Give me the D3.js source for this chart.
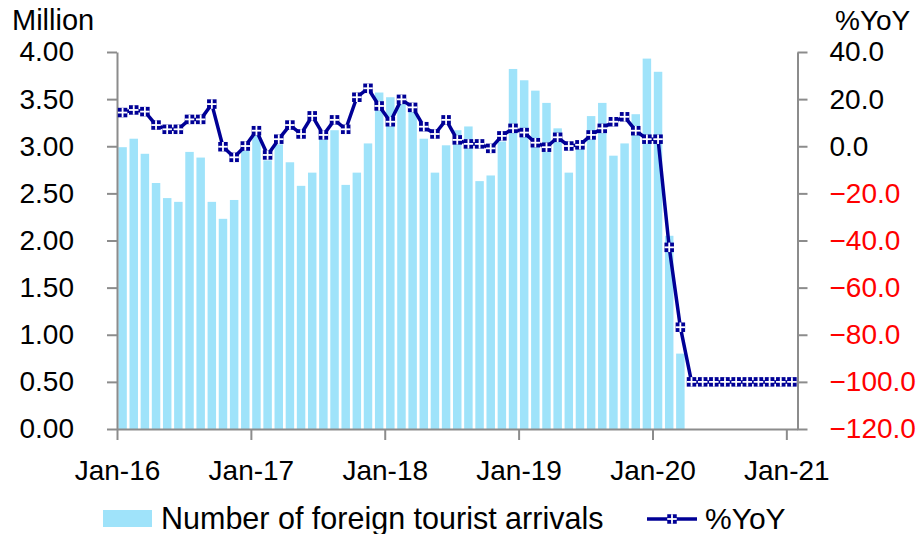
<!DOCTYPE html>
<html>
<head>
<meta charset="utf-8">
<script src="https://cdn.jsdelivr.net/npm/d3@7"></script>
<style>
  html, body { margin: 0; padding: 0; background: #fff; }
  svg { display: block; }
  text { font-family: "Liberation Sans", Arial, sans-serif; }
</style>
</head>
<body>
<svg id="chart" width="918" height="534"></svg>
<script>
// ---- data ----
const months = [
  "2016-01","2016-02","2016-03","2016-04","2016-05","2016-06","2016-07","2016-08","2016-09","2016-10","2016-11","2016-12",
  "2017-01","2017-02","2017-03","2017-04","2017-05","2017-06","2017-07","2017-08","2017-09","2017-10","2017-11","2017-12",
  "2018-01","2018-02","2018-03","2018-04","2018-05","2018-06","2018-07","2018-08","2018-09","2018-10","2018-11","2018-12",
  "2019-01","2019-02","2019-03","2019-04","2019-05","2019-06","2019-07","2019-08","2019-09","2019-10","2019-11","2019-12",
  "2020-01","2020-02","2020-03","2020-04","2020-05","2020-06","2020-07","2020-08","2020-09","2020-10","2020-11","2020-12",
  "2021-01"
];
// Number of foreign tourist arrivals (million), Jan-16 .. Mar-20
const arrivals = [
  2.99, 3.08, 2.92, 2.61, 2.45, 2.41, 2.94, 2.88, 2.41, 2.23, 2.43, 2.97,
  3.12, 2.85, 3.02, 2.83, 2.58, 2.72, 3.08, 3.17, 2.59, 2.72, 3.03, 3.57,
  3.52, 3.47, 3.44, 3.08, 2.72, 3.01, 3.17, 3.21, 2.63, 2.69, 3.05, 3.82,
  3.70, 3.59, 3.46, 3.19, 2.72, 3.00, 3.32, 3.46, 2.90, 3.03, 3.34, 3.93,
  3.79, 2.05, 0.80
];
// %YoY, Jan-16 .. Jan-21
const yoy = [
  14.3, 15.4, 14.7, 9.0, 7.2, 7.2, 11.4, 11.4, 17.9, -0.2, -4.7, 0.1,
  6.6, -3.7, 3.0, 9.0, 5.2, 12.9, 4.8, 11.2, 7.2, 20.8, 24.6, 17.1,
  10.4, 19.9, 16.5, 8.3, 5.2, 11.2, 2.7, 1.0, 1.0, -0.9, 4.4, 7.6,
  5.8, 1.5, -0.4, 3.8, 0.1, 0.6, 4.8, 7.6, 10.4, 12.5, 6.6, 3.0,
  3.0, -42.9, -76.8, -100, -100, -100, -100, -100, -100, -100, -100, -100,
  -100
];
const xTickIndex = [0, 12, 24, 36, 48, 60];
const xTickLabels = ["Jan-16", "Jan-17", "Jan-18", "Jan-19", "Jan-20", "Jan-21"];
const leftTicks = [0, 0.5, 1, 1.5, 2, 2.5, 3, 3.5, 4];
const rightTicks = [-120, -100, -80, -60, -40, -20, 0, 20, 40];
const seriesNames = ["Number of foreign tourist arrivals", "%YoY"];

// ---- layout ----
const L = 117, R = 797.5, T = 52, B = 429;
const barColor = "#9fe3fa";
const lineColor = "#000096";
const axisColor = "#8c8c8c";
const FS = 28;

const svg = d3.select("#chart");

const xBand = d3.scaleBand().domain(months).range([L, R]).paddingInner(0.24).paddingOuter(0.12);
const xIdx = d3.scaleLinear().domain([0, months.length]).range([L, R]);
const yL = d3.scaleLinear().domain([0, 4]).range([B, T]);
const yR = d3.scaleLinear().domain([-120, 40]).range([B, T]);

// bars
svg.append("g").selectAll("rect")
  .data(arrivals)
  .join("rect")
  .attr("x", (d, i) => xBand(months[i]))
  .attr("width", xBand.bandwidth())
  .attr("y", d => yL(d))
  .attr("height", d => yL(0) - yL(d))
  .attr("fill", barColor);

// axes
const styleAxis = g => {
  g.selectAll(".domain").attr("stroke", axisColor).attr("stroke-width", 2);
  g.selectAll(".tick line").attr("stroke", axisColor).attr("stroke-width", 2);
  g.selectAll("text").attr("font-size", FS).attr("fill", "#000")
    .attr("font-family", '"Liberation Sans", Arial, sans-serif');
};

svg.append("g")
  .attr("transform", `translate(${L},0)`)
  .call(d3.axisLeft(yL).tickValues(leftTicks).tickFormat(d3.format(".2f")).tickSize(10).tickSizeOuter(0).tickPadding(33))
  .call(styleAxis);

const gR = svg.append("g")
  .attr("transform", `translate(${R},0)`)
  .call(d3.axisRight(yR).tickValues(rightTicks).tickFormat(d3.format(".1f")).tickSize(10).tickSizeOuter(0).tickPadding(22))
  .call(styleAxis);
gR.selectAll(".tick text").attr("fill", d => d < 0 ? "#ff0000" : "#000");

svg.append("g")
  .attr("transform", `translate(0,${B})`)
  .call(d3.axisBottom(xIdx).tickValues(xTickIndex).tickFormat((d, i) => xTickLabels[i]).tickSize(11).tickSizeOuter(0).tickPadding(20))
  .call(styleAxis);

// line
const cx = i => xBand(months[i]) + xBand.bandwidth() / 2;
const line = d3.line().x((d, i) => cx(i)).y(d => yR(d));
svg.append("path")
  .datum(yoy)
  .attr("d", line)
  .attr("fill", "none")
  .attr("stroke", lineColor)
  .attr("stroke-width", 3.5)
  .attr("stroke-linejoin", "round");

function marker(g, x, y) {
  const s = 9.5;
  g.append("rect").attr("x", x - s / 2).attr("y", y - s / 2).attr("width", s).attr("height", s).attr("fill", lineColor);
  g.append("line").attr("x1", x - s / 2).attr("x2", x + s / 2).attr("y1", y).attr("y2", y).attr("stroke", "#fff").attr("stroke-width", 1.8);
  g.append("line").attr("x1", x).attr("x2", x).attr("y1", y - s / 2).attr("y2", y + s / 2).attr("stroke", "#fff").attr("stroke-width", 1.8);
}
const gm = svg.append("g");
yoy.forEach((d, i) => marker(gm, cx(i), yR(d)));

// axis titles
svg.append("text").attr("x", 12).attr("y", 30).attr("font-size", 29).text("Million");
svg.append("text").attr("x", 835).attr("y", 30).attr("font-size", FS).text("%YoY");

// legend
const lg = svg.append("g");
lg.append("rect").attr("x", 103).attr("y", 510).attr("width", 49).attr("height", 17).attr("fill", barColor);
lg.append("text").attr("x", 161).attr("y", 529).attr("font-size", 30.5).text(seriesNames[0]);
lg.append("line").attr("x1", 647).attr("x2", 697).attr("y1", 519).attr("y2", 519)
  .attr("stroke", lineColor).attr("stroke-width", 3.5);
marker(lg, 672, 519);
lg.append("text").attr("x", 705).attr("y", 529).attr("font-size", 30).text(seriesNames[1]);
</script>
</body>
</html>
